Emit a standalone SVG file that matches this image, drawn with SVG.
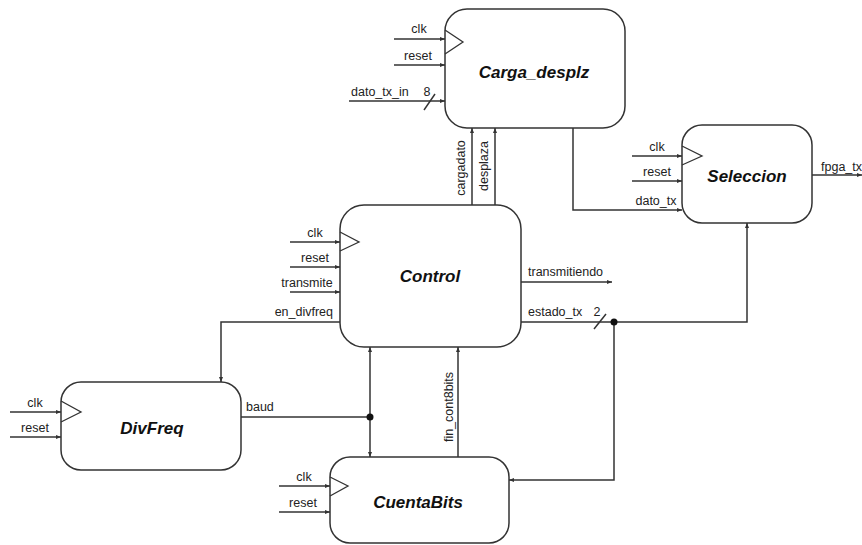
<svg xmlns="http://www.w3.org/2000/svg" width="862" height="545" viewBox="0 0 862 545">
<defs>
<marker id="ah" viewBox="0 0 10 10" refX="10" refY="5" markerWidth="5" markerHeight="5" orient="auto-start-reverse" markerUnits="userSpaceOnUse">
<path d="M0,1 L10,5 L0,9 z" fill="#333"/>
</marker>
<style>
.box{fill:#fff;stroke:#333;stroke-width:1.5}
.clk{fill:none;stroke:#333;stroke-width:1.3}
.w{fill:none;stroke:#333;stroke-width:1.5}
.a{marker-end:url(#ah)}
.lbl{font-family:"Liberation Sans",Arial,sans-serif;font-size:12.5px;fill:#222}
.ttl{font-family:"Liberation Sans",Arial,sans-serif;font-size:17px;font-weight:bold;font-style:italic;fill:#111;text-anchor:middle}
.m{text-anchor:middle}
.e{text-anchor:end}
</style>
</defs>
<rect width="862" height="545" fill="#fff"/>

<g id="connectors">
<!-- Carga inputs -->
<line class="w a" x1="394" y1="39" x2="445" y2="39"/>
<line class="w a" x1="394" y1="65" x2="445" y2="65"/>
<line class="w a" x1="349" y1="101" x2="445" y2="101"/>
<line class="w" x1="424" y1="110" x2="435" y2="94"/>
<!-- Seleccion inputs -->
<line class="w a" x1="632" y1="156" x2="682" y2="156"/>
<line class="w a" x1="632" y1="181" x2="682" y2="181"/>
<polyline class="w a" points="573,128 573,210 682,210"/>
<line class="w a" x1="812" y1="175" x2="862" y2="175"/>
<!-- Control inputs -->
<line class="w a" x1="290" y1="242" x2="340" y2="242"/>
<line class="w a" x1="290" y1="267" x2="340" y2="267"/>
<line class="w a" x1="290" y1="292" x2="340" y2="292"/>
<polyline class="w a" points="340,322 221,322 221,382"/>
<!-- Control to Carga -->
<line class="w a" x1="472" y1="205" x2="472" y2="128"/>
<line class="w a" x1="495" y1="205" x2="495" y2="128"/>
<!-- Control outputs -->
<line class="w a" x1="521" y1="282" x2="612" y2="282"/>
<polyline class="w a" points="521,322 747,322 747,223"/>
<line class="w" x1="594" y1="329" x2="606" y2="314"/>
<polyline class="w a" points="614,322 614,480 509,480"/>
<circle cx="614" cy="322" r="3.5" fill="#111"/>
<!-- DivFreq inputs -->
<line class="w a" x1="10" y1="412" x2="61" y2="412"/>
<line class="w a" x1="10" y1="437" x2="61" y2="437"/>
<!-- baud -->
<line class="w" x1="241" y1="417" x2="370" y2="417"/>
<line class="w a" x1="370" y1="417" x2="370" y2="347"/>
<line class="w a" x1="370" y1="417" x2="370" y2="457"/>
<circle cx="370" cy="417" r="3.5" fill="#111"/>
<!-- fin_cont8bits -->
<line class="w a" x1="458" y1="457" x2="458" y2="347"/>
<!-- CuentaBits inputs -->
<line class="w a" x1="279" y1="486" x2="330" y2="486"/>
<line class="w a" x1="279" y1="512" x2="330" y2="512"/>

<!-- labels -->
<text class="lbl m" x="419" y="33">clk</text>
<text class="lbl m" x="418" y="60">reset</text>
<text class="lbl" x="351" y="96">dato_tx_in</text>
<text class="lbl m" x="427" y="96">8</text>
<text class="lbl m" x="657" y="151">clk</text>
<text class="lbl m" x="657" y="176">reset</text>
<text class="lbl m" x="656" y="205">dato_tx</text>
<text class="lbl" x="821" y="171">fpga_tx</text>
<text class="lbl m" x="315" y="237">clk</text>
<text class="lbl m" x="315" y="262">reset</text>
<text class="lbl m" x="307" y="287">transmite</text>
<text class="lbl e" x="333" y="316">en_divfreq</text>
<text class="lbl" transform="translate(465,168) rotate(-90)" text-anchor="middle">cargadato</text>
<text class="lbl" transform="translate(488,166) rotate(-90)" text-anchor="middle">desplaza</text>
<text class="lbl" x="528" y="276">transmitiendo</text>
<text class="lbl" x="528" y="316">estado_tx</text>
<text class="lbl m" x="597" y="316">2</text>
<text class="lbl m" x="35" y="407">clk</text>
<text class="lbl m" x="35" y="432">reset</text>
<text class="lbl" x="246" y="411">baud</text>
<text class="lbl" transform="translate(453,407) rotate(-90)" text-anchor="middle">fin_cont8bits</text>
<text class="lbl m" x="304" y="481">clk</text>
<text class="lbl m" x="303" y="507">reset</text>
</g>

<g id="carga_desplz">
<rect class="box" x="445" y="9" width="180" height="119" rx="22"/>
<polyline class="clk" points="445,30 463,42 445,54"/>
<text class="ttl" x="534" y="78">Carga_desplz</text>
</g>

<g id="seleccion">
<rect class="box" x="682" y="125" width="130" height="98" rx="20"/>
<polyline class="clk" points="682,146 702,156 682,165"/>
<text class="ttl" x="747" y="182">Seleccion</text>
</g>

<g id="control">
<rect class="box" x="340" y="205" width="181" height="142" rx="24"/>
<polyline class="clk" points="340,232 359,242 340,251"/>
<text class="ttl" x="430" y="282">Control</text>
</g>

<g id="divfreq">
<rect class="box" x="61" y="382" width="180" height="88" rx="20"/>
<polyline class="clk" points="61,401 81,412 61,422"/>
<text class="ttl" x="152" y="434">DivFreq</text>
</g>

<g id="cuentabits">
<rect class="box" x="330" y="457" width="179" height="86" rx="20"/>
<polyline class="clk" points="330,477 348,486 330,496"/>
<text class="ttl" x="418" y="508">CuentaBits</text>
</g>
</svg>
